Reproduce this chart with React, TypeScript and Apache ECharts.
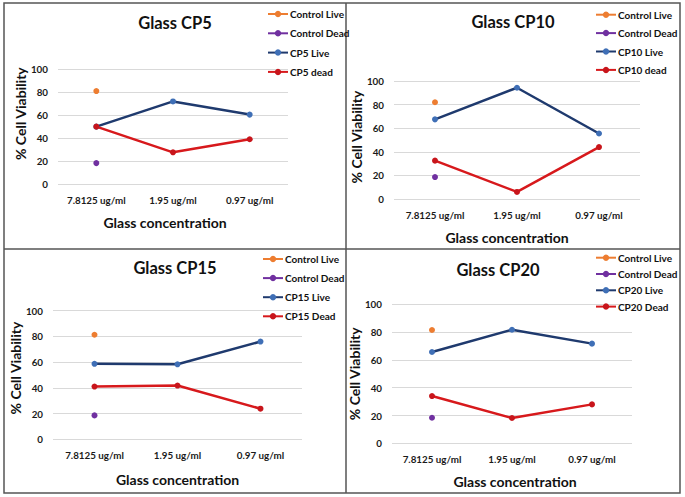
import React, { useEffect, useRef } from "react";
import * as echarts from "echarts";

const categories = ["7.8125 ug/ml", "1.95 ug/ml", "0.97 ug/ml"];
const yTicks = [0, 20, 40, 60, 80, 100];

const panelTitles = ["Glass CP5", "Glass CP10", "Glass CP15", "Glass CP20"];
const liveNames = ["CP5 Live", "CP10 Live", "CP15 Live", "CP20 Live"];
const deadNames = ["CP5 dead", "CP10 dead", "CP15 Dead", "CP20 Dead"];

const controlLive = [81, 82, 81.3, 81.5];
const controlDead = [18.2, 18.6, 18.6, 18.4];

const cp5Live = [50, 72, 60.5];
const cp5Dead = [50, 27.6, 39];
const cp10Live = [67.5, 94.3, 55.5];
const cp10Dead = [32.5, 6, 44];
const cp15Live = [58.7, 58.3, 76];
const cp15Dead = [41, 41.8, 23.8];
const cp20Live = [65.7, 81.7, 71.7];
const cp20Dead = [34, 18.2, 28];

const liveData = [cp5Live, cp10Live, cp15Live, cp20Live];
const deadData = [cp5Dead, cp10Dead, cp15Dead, cp20Dead];

const FONT = "Lato";
const ORANGE = "#ED7D31";
const PURPLE = "#7030A0";
const NAVY = "#1F3A6E";
const BLUE_MK = "#3F6FB6";
const RED = "#D7191C";
const RED_MK = "#C8151B";

// layout per panel
const grids = [
  { left: 58, top: 69.3, width: 230, height: 114.7 },
  { left: 394, top: 81, width: 246, height: 118 },
  { left: 53, top: 310.7, width: 249, height: 128.6 },
  { left: 392, top: 304.3, width: 240, height: 139 },
];
const titlePos = [
  [175, 23],
  [513, 22],
  [175, 268],
  [498, 270],
];
const legendPos = [
  { left: 267, top: 8, gap: 7.3 },
  { left: 595, top: 8.7, gap: 6.4 },
  { left: 262, top: 253, gap: 7.1 },
  { left: 595, top: 251.7, gap: 4.3 },
];
const xNameGap = [31, 31, 33, 31];
const xNameShift = [-8, -10, 0, 3];
const yNameGap = [30, 28, 30, 22];
const yNameShift = [13, 3, 7, 0];

export default function App() {
  const ref = useRef<HTMLDivElement>(null);
  useEffect(() => {
    if (!ref.current) return;
    const chart = echarts.init(ref.current, undefined, { renderer: "svg" });

    const xAxis: any[] = [];
    const yAxis: any[] = [];
    const series: any[] = [];
    const legend: any[] = [];
    const graphic: any[] = [];

    grids.forEach((g, i) => {
      const xs = xNameShift[i];
      xAxis.push({
        type: "category",
        gridIndex: i,
        data: categories,
        boundaryGap: true,
        axisLine: { show: false },
        axisTick: { show: false },
        axisLabel: {
          margin: 11,
          fontFamily: FONT,
          fontWeight: "bold",
          fontSize: 9.8,
          color: "#1a1a1a",
        },
        name: "Glass concentration",
        nameLocation: "middle",
        nameGap: xNameGap[i],
        nameTextStyle: {
          fontFamily: FONT,
          fontWeight: "bold",
          fontSize: 14,
          color: "#111",
          padding: xs < 0 ? [0, -2 * xs, 0, 0] : [0, 0, 0, 2 * xs],
        },
      });
      const ys = yNameShift[i];
      yAxis.push({
        type: "value",
        gridIndex: i,
        min: 0,
        max: 100,
        interval: 20,
        axisLine: { show: false },
        axisTick: { show: false },
        splitLine: { lineStyle: { color: "#D9D9D9", width: 1 } },
        axisLabel: {
          margin: 10,
          fontFamily: FONT,
          fontWeight: "bold",
          fontSize: 9.8,
          color: "#1a1a1a",
        },
        name: "% Cell Viability",
        nameLocation: "middle",
        nameRotate: 90,
        nameGap: yNameGap[i],
        nameTextStyle: {
          fontFamily: FONT,
          fontWeight: "bold",
          fontSize: 14,
          color: "#111",
          padding: ys > 0 ? [0, 0, 0, 2 * ys] : [0, -2 * ys, 0, 0],
        },
      });

      series.push({
        type: "line",
        name: "Control Live",
        xAxisIndex: i,
        yAxisIndex: i,
        data: [controlLive[i], null, null],
        symbol: "circle",
        symbolSize: 6,
        itemStyle: { color: ORANGE },
        lineStyle: { color: ORANGE, width: 2 },
      });
      series.push({
        type: "line",
        name: "Control Dead",
        xAxisIndex: i,
        yAxisIndex: i,
        data: [controlDead[i], null, null],
        symbol: "circle",
        symbolSize: 6,
        itemStyle: { color: PURPLE },
        lineStyle: { color: PURPLE, width: 2 },
      });
      series.push({
        type: "line",
        name: liveNames[i],
        xAxisIndex: i,
        yAxisIndex: i,
        data: liveData[i],
        symbol: "circle",
        symbolSize: 6,
        itemStyle: { color: BLUE_MK },
        lineStyle: { color: NAVY, width: 2.5 },
      });
      series.push({
        type: "line",
        name: deadNames[i],
        xAxisIndex: i,
        yAxisIndex: i,
        data: deadData[i],
        symbol: "circle",
        symbolSize: 6,
        itemStyle: { color: RED_MK },
        lineStyle: { color: RED, width: 2.5 },
        z: 3,
      });

      const lp = legendPos[i];
      legend.push({
        orient: "vertical",
        left: lp.left,
        top: lp.top,
        itemGap: lp.gap,
        itemWidth: 20,
        itemHeight: 8,
        padding: 0,
        selectedMode: false,
        data: ["Control Live", "Control Dead", liveNames[i], deadNames[i]],
        textStyle: {
          fontFamily: FONT,
          fontWeight: "bold",
          fontSize: 10,
          lineHeight: 12,
          color: "#111",
          padding: [0, 0, 0, -3],
        },
      });

      graphic.push({
        type: "text",
        x: titlePos[i][0],
        y: titlePos[i][1],
        style: {
          text: panelTitles[i],
          fontFamily: FONT,
          fontWeight: "bold",
          fontSize: 16.5,
          fill: "#111",
          textAlign: "center",
          textVerticalAlign: "middle",
        },
      });
    });

    const borderStyle = { stroke: "#555", lineWidth: 1.5 };
    graphic.push(
      { type: "rect", shape: { x: 4, y: 3, width: 676, height: 490 }, style: { fill: "none", ...borderStyle }, silent: true },
      { type: "line", shape: { x1: 346, y1: 3, x2: 346, y2: 493 }, style: borderStyle, silent: true },
      { type: "line", shape: { x1: 4, y1: 249, x2: 680, y2: 249 }, style: borderStyle, silent: true }
    );

    chart.setOption({
      animation: false,
      backgroundColor: "#fff",
      grid: grids.map((g) => ({ ...g, containLabel: false })),
      xAxis,
      yAxis,
      legend,
      series,
      graphic,
    });
    return () => chart.dispose();
  }, []);

  return (
    <div
      ref={ref}
      style={{ position: "fixed", left: 0, top: 0, width: 685, height: 497 }}
    />
  );
}
